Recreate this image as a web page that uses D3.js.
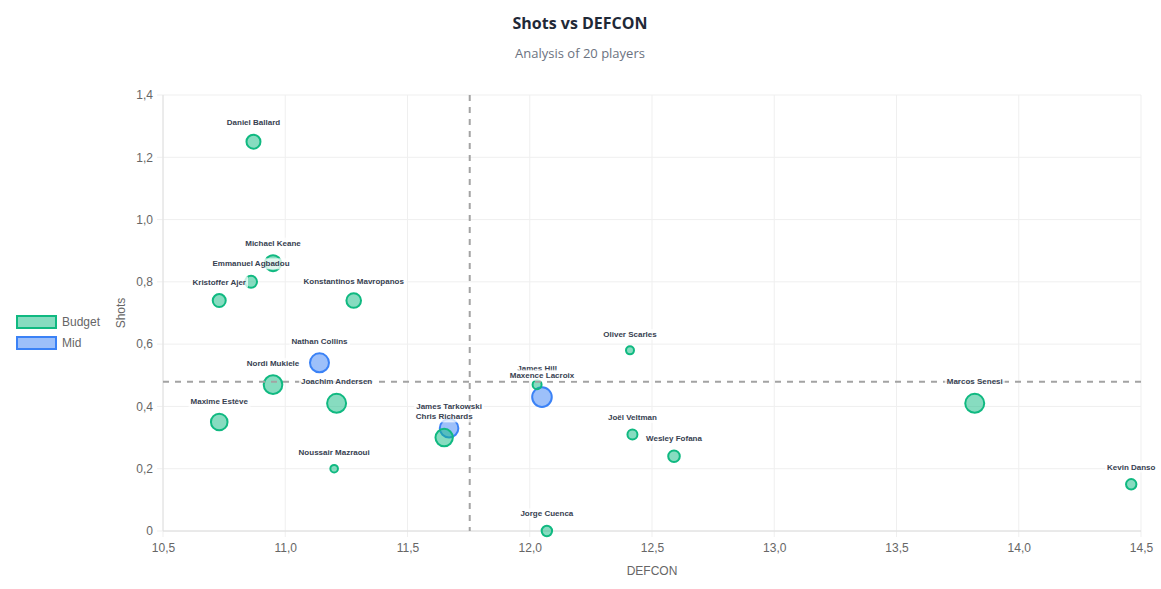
<!DOCTYPE html>
<html>
<head>
<meta charset="utf-8">
<script src="https://cdn.jsdelivr.net/npm/d3@7"></script>
<style>
  html, body { margin: 0; padding: 0; background: #fff; }
  svg { display: block; }
</style>
</head>
<body>
<svg id="chart" width="1161" height="589"></svg>
<script>
// ---- Data ----
const players = ["Daniel Ballard","Michael Keane","Emmanuel Agbadou","Kristoffer Ajer","Konstantinos Mavropanos",
  "Nathan Collins","Nordi Mukiele","Joachim Andersen","Maxime Estève","James Tarkowski","Chris Richards",
  "Noussair Mazraoui","James Hill","Maxence Lacroix","Oliver Scarles","Joël Veltman","Wesley Fofana",
  "Jorge Cuenca","Marcos Senesi","Kevin Danso"];
const tiers = ["Budget","Budget","Budget","Budget","Budget",
  "Mid","Budget","Budget","Budget","Mid","Budget",
  "Budget","Budget","Mid","Budget","Budget","Budget",
  "Budget","Budget","Budget"];
const defcon = [10.87,10.95,10.86,10.73,11.28,11.14,10.95,11.21,10.73,11.67,11.65,
  11.20,12.03,12.05,12.41,12.42,12.59,12.07,13.82,14.46];
const shots = [1.25,0.86,0.80,0.74,0.74,0.54,0.47,0.41,0.35,0.33,0.30,
  0.20,0.47,0.43,0.58,0.31,0.24,0.00,0.41,0.15];
const bubble = [7.0,8.0,6.0,6.5,7.3,9.5,9.3,9.5,8.3,9.3,8.7,
  3.8,4.5,9.8,4.0,5.0,5.8,5.2,9.5,5.2];
const tierNames = ["Budget","Mid"];
const xTicks = [10.5,11.0,11.5,12.0,12.5,13.0,13.5,14.0,14.5];
const yTicks = [0,0.2,0.4,0.6,0.8,1.0,1.2,1.4];

const data = players.map((n,i)=>({name:n, tier:tiers[i], x:defcon[i], y:shots[i], s:bubble[i]}));

// ---- Layout ----
const svg = d3.select("#chart");
const L = 163, R = 1141, T = 95, B = 531;
const x = d3.scaleLinear().domain([10.5,14.5]).range([L,R]);
const y = d3.scaleLinear().domain([0,1.4]).range([B,T]);
const r = d3.scaleLinear().domain([0,10]).range([0,10]);

const colors = {
  Budget: {fill:"rgba(16,185,129,0.5)", stroke:"#10b981"},
  Mid: {fill:"rgba(59,130,246,0.5)", stroke:"#3b82f6"}
};
const font = "'Liberation Sans', Arial, Helvetica, sans-serif";
const fmtX = d => d3.format(".1f")(d).replace(".", ",");
const fmtY = d => d === 0 ? "0" : d3.format(".1f")(d).replace(".", ",");

// Title
svg.append("text").attr("x",580).attr("y",29).attr("text-anchor","middle")
  .style("font-family","'Open Sans', 'Noto Sans', sans-serif").style("font-weight","700")
  .style("font-size","16px").attr("fill","#1f2937").text("Shots vs DEFCON");
svg.append("text").attr("x",580).attr("y",58).attr("text-anchor","middle")
  .style("font-family","'Open Sans', 'Noto Sans', sans-serif")
  .style("font-size","13px").attr("fill","#6b7280").text("Analysis of 20 players");

// Grid
const grid = svg.append("g");
grid.selectAll(".gx").data(xTicks).join("line")
  .attr("x1",d=>x(d)).attr("x2",d=>x(d)).attr("y1",T).attr("y2",B+6)
  .attr("stroke","#efefef").attr("stroke-width",1);
grid.selectAll(".gy").data(yTicks).join("line")
  .attr("x1",L-6).attr("x2",R).attr("y1",d=>y(d)).attr("y2",d=>y(d))
  .attr("stroke","#efefef").attr("stroke-width",1);
// axis borders
svg.append("line").attr("x1",L).attr("x2",L).attr("y1",T).attr("y2",B).attr("stroke","#e0e0e0");
svg.append("line").attr("x1",L).attr("x2",R).attr("y1",B).attr("y2",B).attr("stroke","#dcdcdc");

// Axes via d3
const xAxis = d3.axisBottom(x).tickValues(xTicks).tickFormat(fmtX).tickSize(0).tickPadding(12);
const yAxis = d3.axisLeft(y).tickValues(yTicks).tickFormat(fmtY).tickSize(0).tickPadding(10);
const gx = svg.append("g").attr("transform",`translate(0,${B})`).call(xAxis);
const gy = svg.append("g").attr("transform",`translate(${L},0)`).call(yAxis);
[gx,gy].forEach(g=>{
  g.select(".domain").remove();
  g.selectAll("text").style("font-family",font).style("font-size","12px").attr("fill","#666");
});

// Axis titles
svg.append("text").attr("x",(L+R)/2).attr("y",575).attr("text-anchor","middle")
  .style("font-family",font).style("font-size","12px").attr("fill","#666").text("DEFCON");
svg.append("text").attr("transform",`translate(125,${(T+B)/2}) rotate(-90)`).attr("text-anchor","middle")
  .style("font-family",font).style("font-size","12px").attr("fill","#666").text("Shots");

// Points (Mid first so Budget sits on top)
const ordered = data.filter(d=>d.tier==="Mid").concat(data.filter(d=>d.tier==="Budget"));
svg.append("g").selectAll("circle").data(ordered).join("circle")
  .attr("cx",d=>x(d.x)).attr("cy",d=>y(d.y)).attr("r",d=>r(d.s))
  .attr("fill",d=>colors[d.tier].fill).attr("stroke",d=>colors[d.tier].stroke).attr("stroke-width",2);

// Mean lines
const mx = d3.mean(defcon), my = d3.mean(shots);
svg.append("line").attr("x1",x(mx)).attr("x2",x(mx)).attr("y1",T).attr("y2",B)
  .attr("stroke","#a3a3a3").attr("stroke-width",2).attr("stroke-dasharray","6,6");
svg.append("line").attr("x1",L).attr("x2",R).attr("y1",y(my)).attr("y2",y(my))
  .attr("stroke","#a3a3a3").attr("stroke-width",2).attr("stroke-dasharray","6,6");

// Labels
const lg = svg.append("g");
data.forEach(d=>{
  const cx = x(d.x), cy = y(d.y) - r(d.s) - 12;
  const g = lg.append("g");
  const t = g.append("text").attr("x",cx).attr("y",cy).attr("text-anchor","middle")
    .attr("dominant-baseline","central")
    .style("font-family",font).style("font-size","8px").style("font-weight","700")
    .attr("fill","#374151").text(d.name);
  const bb = t.node().getBBox();
  g.insert("rect","text").attr("x",bb.x-2).attr("y",bb.y-1).attr("width",bb.width+4).attr("height",bb.height+2)
    .attr("fill","rgba(255,255,255,0.75)");
});

// Legend
const leg = svg.append("g");
tierNames.forEach((n,i)=>{
  const yy = 316 + i*21;
  leg.append("rect").attr("x",17).attr("y",yy).attr("width",39).attr("height",12)
    .attr("fill",colors[n].fill).attr("stroke",colors[n].stroke).attr("stroke-width",2);
  leg.append("text").attr("x",62).attr("y",yy+6).attr("dominant-baseline","central")
    .style("font-family",font).style("font-size","12px").attr("fill","#666").text(n);
});
</script>
</body>
</html>
